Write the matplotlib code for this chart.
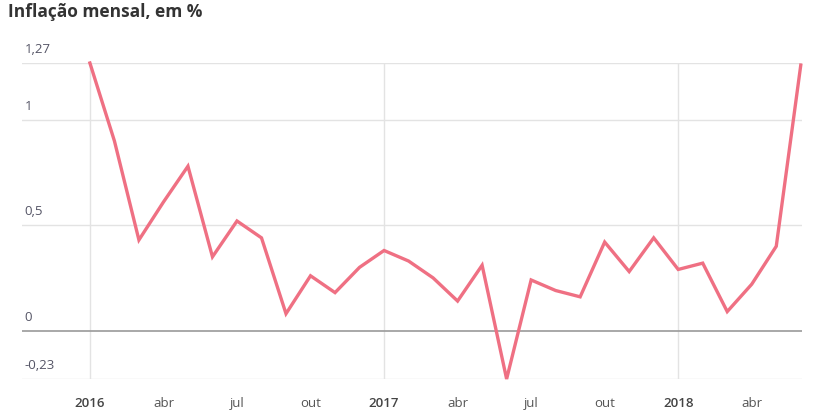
import matplotlib
matplotlib.use("Agg")
import matplotlib.pyplot as plt
import matplotlib.transforms as mtransforms

months = list(range(30))  # Jan 2016 .. Jun 2018
values = [1.27, 0.90, 0.43, 0.61, 0.78, 0.35, 0.52, 0.44, 0.08, 0.26, 0.18, 0.30,
          0.38, 0.33, 0.25, 0.14, 0.31, -0.23, 0.24, 0.19, 0.16, 0.42, 0.28, 0.44,
          0.29, 0.32, 0.09, 0.22, 0.40, 1.26]
xtick_pos = [0, 3, 6, 9, 12, 15, 18, 21, 24, 27]
xtick_labels = ["2016", "abr", "jul", "out", "2017", "abr", "jul", "out", "2018", "abr"]
year_pos = [0, 12, 24]
yticks = [-0.23, 0, 0.5, 1, 1.27]
ytick_labels = ["-0,23", "0", "0,5", "1", "1,27"]

plt.rcParams['font.family'] = ['Open Sans', 'DejaVu Sans']

fig = plt.figure(figsize=(8.39, 4.15), dpi=100)
ax = fig.add_axes([22/839, 1-379/415, 780/839, (379-63)/415])

ax.plot(months, values, color='#ef7083', lw=2.4, clip_on=False, zorder=3,
        solid_joinstyle='miter')
ax.set_xlim(-2.77, 29.05)
ax.set_ylim(-0.23, 1.27)

for y in yticks:
    if y == 0:
        ax.axhline(y, color='#9a9a9a', lw=1.2, zorder=2)
    else:
        ax.axhline(y, color='#e3e3e3', lw=1.0, zorder=1)
for x in year_pos:
    ax.axvline(x, color='#e3e3e3', lw=1.0, zorder=1)

for s in ax.spines.values():
    s.set_visible(False)
ax.set_yticks([])
ax.set_xticks(xtick_pos)
ax.set_xticklabels(xtick_labels)
ax.tick_params(axis='x', length=0, pad=13, labelsize=9.5, colors='#555555')
for lbl, pos in zip(ax.get_xticklabels(), xtick_pos):
    if pos in year_pos:
        lbl.set_fontweight('semibold')
        lbl.set_color('#444444')

trans = mtransforms.blended_transform_factory(ax.transAxes, ax.transData)
offset = mtransforms.ScaledTranslation(0, 5/72, fig.dpi_scale_trans)
for y, t in zip(yticks, ytick_labels):
    ax.text(0.003, y, t, transform=trans + offset, ha='left', va='bottom',
            fontsize=9.5, color='#555566')

fig.text(8/839, 1-12/415, "Inflação mensal, em %", fontsize=12.5, fontweight='bold',
         color='#333333', ha='left', va='center')

fig.savefig("out.png", dpi=100)
